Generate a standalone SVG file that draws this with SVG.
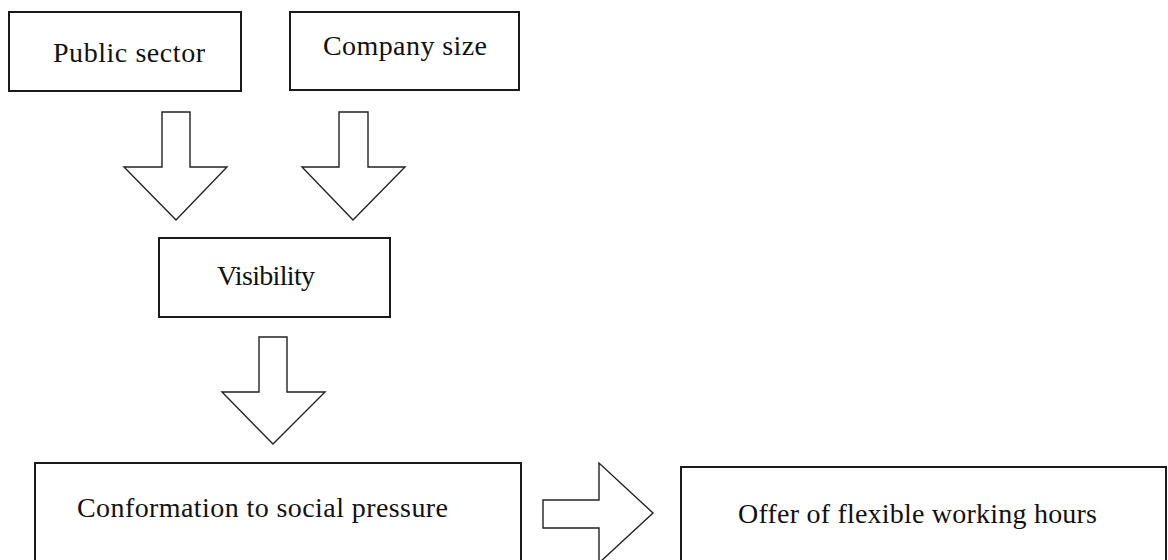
<svg xmlns="http://www.w3.org/2000/svg" width="1168" height="560" viewBox="0 0 1168 560">
<style>
.box{fill:#fff;stroke:#1a1a1a;stroke-width:2}
.arr{fill:#fff;stroke:#222;stroke-width:1.4;stroke-linejoin:miter}
.lbl{font-family:"Liberation Serif","Times New Roman",serif;font-size:28px;fill:#111}
</style>
<rect width="1168" height="560" fill="#fff"/>
<g id="connectors">
<polygon class="arr" points="162,112 190,112 190,167 227,167 176,220 124,167 162,167"/>
<polygon class="arr" points="339,112 368,112 368,167 405,167 353,220 302,167 339,167"/>
<polygon class="arr" points="259,337 287,337 287,392 325,392 273,444 222,392 259,392"/>
<polygon class="arr" points="543,500 599,500 599,463 653,513 599,563 599,528 543,528"/>
</g>
<g id="node-public-sector">
<rect class="box" x="9" y="12" width="232" height="79"/>
<text class="lbl" x="53" y="62" textLength="152">Public sector</text>
</g>
<g id="node-company-size">
<rect class="box" x="290" y="12" width="229" height="78"/>
<text class="lbl" x="323" y="55" textLength="164">Company size</text>
</g>
<g id="node-visibility">
<rect class="box" x="159" y="238" width="231" height="79"/>
<text class="lbl" x="217" y="285" textLength="98">Visibility</text>
</g>
<g id="node-conformation">
<rect class="box" x="35" y="463" width="486" height="110"/>
<text class="lbl" x="77" y="517" textLength="371">Conformation to social pressure</text>
</g>
<g id="node-offer">
<rect class="box" x="681" y="467" width="485" height="110"/>
<text class="lbl" x="738" y="523" textLength="359">Offer of flexible working hours</text>
</g>
</svg>
